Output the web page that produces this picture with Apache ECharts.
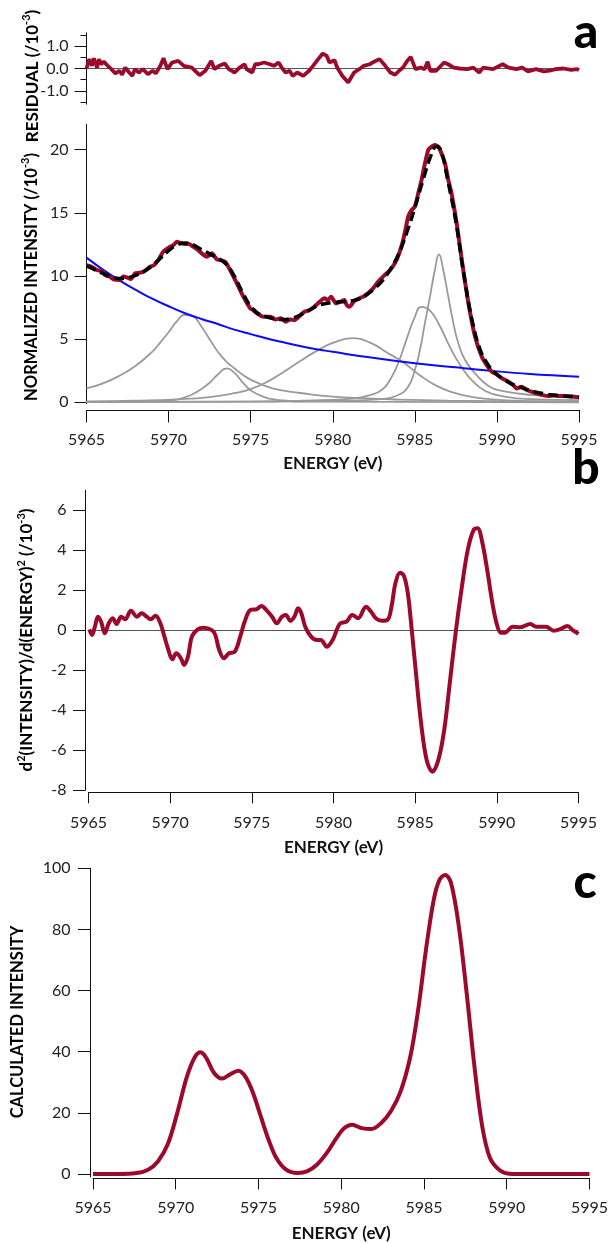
<!DOCTYPE html>
<html lang="en">
<head>
    <meta charset="UTF-8">
    <title>XANES pre-edge fit</title>
    <script src="https://cdn.jsdelivr.net/npm/echarts@6/dist/echarts.min.js"></script>
    <style>
        html, body { margin: 0; padding: 0; background: #fff; }
        #chart { width: 611px; height: 1243px; }
    </style>
</head>
<body>
<div id="chart"></div>
<script type="text/javascript">
	// ---- data ----
	var energyTicks = [5965, 5970, 5975, 5980, 5985, 5990, 5995];

	// residual (/10^-3)
	var residE = [5965.00, 5965.17, 5965.33, 5965.45, 5965.64, 5965.76, 5965.88, 5966.05, 5966.29, 5966.52, 5966.76, 5967.00, 5967.17, 5967.36, 5967.60, 5967.79, 5967.95, 5968.19, 5968.43, 5968.74, 5969.03, 5969.22, 5969.50, 5969.69, 5969.93, 5970.22, 5970.58, 5970.93, 5971.41, 5971.89, 5972.24, 5972.60, 5972.79, 5973.08, 5973.43, 5973.67, 5974.03, 5974.32, 5974.63, 5974.75, 5975.10, 5975.27, 5975.46, 5975.82, 5976.17, 5976.41, 5976.70, 5976.89, 5977.13, 5977.37, 5977.56, 5977.84, 5978.20, 5978.56, 5978.80, 5979.03, 5979.39, 5979.63, 5979.80, 5980.11, 5980.27, 5980.58, 5980.94, 5981.30, 5981.61, 5981.89, 5982.25, 5982.61, 5982.85, 5983.20, 5983.51, 5983.80, 5984.04, 5984.28, 5984.51, 5984.75, 5985.04, 5985.35, 5985.59, 5985.78, 5985.94, 5986.30, 5986.78, 5987.02, 5987.37, 5987.73, 5988.21, 5988.56, 5988.92, 5989.16, 5989.76, 5990.35, 5990.71, 5991.19, 5991.54, 5991.90, 5992.38, 5992.85, 5993.21, 5993.57, 5994.04, 5994.52, 5994.88, 5995.00];
	var residV = [0.00, 0.42, 0.12, 0.46, 0.04, 0.42, 0.19, 0.31, 0.12, -0.03, -0.22, -0.10, -0.28, 0.04, -0.18, -0.33, -0.03, -0.18, -0.03, -0.25, -0.10, -0.22, 0.12, 0.46, -0.03, 0.27, 0.34, 0.12, 0.04, -0.30, -0.10, 0.34, -0.03, 0.12, 0.22, -0.03, -0.18, 0.04, 0.19, -0.03, -0.18, 0.19, 0.19, 0.27, 0.19, 0.12, 0.27, 0.04, -0.18, -0.10, -0.33, -0.18, -0.33, -0.10, 0.12, 0.34, 0.67, 0.57, 0.27, 0.37, 0.04, -0.33, -0.63, -0.18, -0.03, 0.12, 0.19, 0.34, 0.42, 0.12, -0.18, -0.28, -0.10, 0.04, 0.31, 0.52, -0.03, 0.04, -0.03, 0.30, -0.10, -0.10, 0.27, 0.19, 0.04, 0.00, -0.03, 0.04, -0.18, 0.04, -0.03, 0.19, 0.04, -0.03, 0.04, -0.13, -0.03, -0.13, -0.10, -0.03, 0.00, -0.06, -0.03, -0.07];

	// measured spectrum (/10^-3)
	var dataE = [5965.0, 5965.3, 5965.62, 5965.9, 5966.13, 5966.4, 5966.64, 5967.04, 5967.25, 5967.45, 5967.7, 5967.96, 5968.2, 5968.47, 5968.87, 5969.1, 5969.38, 5969.5, 5969.68, 5970.09, 5970.3, 5970.5, 5970.7, 5971.0, 5971.2, 5971.51, 5971.75, 5972.02, 5972.33, 5972.5, 5972.63, 5972.94, 5973.2, 5973.45, 5973.75, 5974.16, 5974.56, 5974.97, 5975.15, 5975.38, 5975.78, 5976.22, 5976.5, 5976.84, 5977.14, 5977.4, 5977.65, 5978.0, 5978.27, 5978.6, 5978.88, 5979.2, 5979.49, 5979.7, 5979.9, 5980.2, 5980.45, 5980.71, 5980.85, 5981.02, 5981.3, 5981.63, 5981.9, 5982.14, 5982.45, 5982.76, 5983.16, 5983.45, 5983.78, 5984.05, 5984.29, 5984.45, 5984.59, 5984.8, 5985.0, 5985.2, 5985.41, 5985.6, 5985.82, 5986.05, 5986.22, 5986.45, 5986.65, 5986.84, 5987.04, 5987.24, 5987.55, 5987.86, 5988.27, 5988.67, 5989.08, 5989.4, 5989.69, 5990.0, 5990.31, 5990.7, 5991.0, 5991.2, 5991.5, 5991.8, 5992.1, 5992.6, 5993.1, 5993.5, 5993.8, 5994.3, 5994.7, 5995.0];
	var dataV = [10.86, 10.75, 10.47, 10.4, 10.07, 9.95, 9.73, 9.68, 9.95, 9.89, 9.75, 10.2, 10.25, 10.33, 10.73, 10.85, 11.26, 11.55, 11.92, 12.31, 12.45, 12.71, 12.62, 12.52, 12.55, 12.31, 12.1, 11.79, 11.52, 11.65, 11.79, 11.31, 11.25, 11.12, 10.47, 9.41, 8.35, 7.44, 7.3, 7.04, 6.77, 6.77, 6.55, 6.65, 6.38, 6.55, 6.51, 6.85, 7.17, 7.3, 7.56, 7.95, 8.23, 8.1, 8.35, 7.83, 7.95, 8.09, 7.7, 7.56, 8.0, 8.23, 8.4, 8.62, 9.0, 9.54, 10.07, 10.4, 11.0, 11.8, 12.84, 13.8, 14.68, 15.2, 15.47, 16.5, 17.6, 18.8, 19.96, 20.25, 20.36, 20.2, 19.6, 18.9, 17.6, 16.5, 14.16, 11.26, 7.81, 5.19, 3.6, 2.9, 2.42, 2.2, 1.9, 1.63, 1.35, 1.1, 1.24, 1.0, 0.84, 0.63, 0.5, 0.55, 0.5, 0.5, 0.45, 0.4];

	// total fit (dashed)
	var fitE = [5965, 5965.5, 5966, 5966.5, 5967, 5967.5, 5968, 5968.5, 5969, 5969.5, 5970, 5970.5, 5971, 5971.5, 5972, 5972.5, 5973, 5973.5, 5974, 5974.5, 5975, 5975.5, 5976, 5976.5, 5977, 5977.5, 5978, 5978.5, 5979, 5979.5, 5980, 5980.5, 5981, 5981.5, 5982, 5982.5, 5983, 5983.5, 5984, 5984.5, 5985, 5985.5, 5986, 5986.3, 5986.6, 5987, 5987.5, 5988, 5988.5, 5989, 5989.5, 5990, 5990.5, 5991, 5992, 5993, 5994, 5995];
	var fitV = [10.8, 10.5, 10.2, 9.95, 9.8, 9.85, 10.05, 10.35, 10.8, 11.4, 12.0, 12.45, 12.6, 12.45, 12.1, 11.75, 11.4, 10.95, 10.0, 8.7, 7.6, 7.0, 6.75, 6.6, 6.55, 6.65, 6.9, 7.25, 7.6, 7.8, 7.9, 7.95, 8.0, 8.15, 8.45, 8.95, 9.6, 10.5, 11.7, 13.4, 15.4, 17.6, 19.6, 20.25, 19.9, 17.6, 14.3, 10.0, 6.4, 4.1, 2.9, 2.2, 1.75, 1.4, 0.95, 0.65, 0.5, 0.4];

	// background (blue)
	var bgE = [5965, 5966, 5967, 5968, 5969, 5970, 5971, 5972, 5973, 5974, 5975, 5976, 5977, 5978, 5979, 5980, 5982, 5984, 5986, 5988, 5990, 5992, 5995];
	var bgV = [11.45, 10.5, 9.65, 8.9, 8.2, 7.6, 7.05, 6.6, 6.2, 5.75, 5.4, 5.05, 4.75, 4.45, 4.2, 4.0, 3.6, 3.25, 2.95, 2.7, 2.45, 2.25, 2.03];

	// fitted components (gray)
	var pk1E = [5965, 5966, 5967, 5968, 5969, 5969.5, 5970, 5970.5, 5971, 5971.5, 5972, 5972.5, 5973, 5973.5, 5974, 5974.5, 5975, 5976, 5977, 5978, 5980, 5982, 5984, 5987, 5990, 5995];
	var pk1V = [1.1, 1.5, 2.1, 2.9, 4.0, 4.75, 5.55, 6.4, 6.93, 6.8, 6.0, 5.0, 4.0, 3.25, 2.7, 2.2, 1.8, 1.25, 0.93, 0.74, 0.45, 0.31, 0.22, 0.14, 0.1, 0.06];
	var pk2E = [5965, 5968, 5970, 5970.5, 5971, 5971.5, 5972, 5972.5, 5973, 5973.55, 5974, 5974.5, 5975, 5975.5, 5976, 5976.5, 5977, 5978, 5995];
	var pk2V = [0.01, 0.05, 0.15, 0.22, 0.4, 0.66, 1.05, 1.55, 2.2, 2.69, 2.35, 1.6, 0.95, 0.6, 0.34, 0.22, 0.15, 0.06, 0];
	var pk3E = [5965, 5968, 5970.5, 5972.5, 5974, 5975, 5976, 5977, 5978, 5979, 5980, 5981.2, 5982.3, 5983.3, 5984.3, 5985.3, 5986.3, 5987.3, 5988.5, 5990.3, 5992, 5995];
	var pk3V = [0.08, 0.14, 0.24, 0.42, 0.72, 1.05, 1.62, 2.4, 3.25, 4.05, 4.7, 5.08, 4.7, 3.95, 3.15, 2.15, 1.32, 0.78, 0.42, 0.18, 0.1, 0.05];
	var pk4E = [5965, 5975, 5979.3, 5981.3, 5982.3, 5983, 5983.5, 5984, 5984.5, 5985, 5985.4, 5985.9, 5986.5, 5987, 5987.5, 5988, 5988.5, 5989.3, 5990.3, 5992, 5995];
	var pk4V = [0.02, 0.06, 0.18, 0.31, 0.58, 1.0, 1.8, 3.15, 5.0, 6.77, 7.56, 7.3, 6.1, 4.75, 3.5, 2.5, 1.72, 0.9, 0.5, 0.25, 0.18];
	var pk5E = [5965, 5975, 5980, 5982.76, 5983.98, 5984.59, 5985.0, 5985.31, 5985.61, 5985.92, 5986.22, 5986.47, 5986.73, 5987.04, 5987.35, 5987.65, 5988.06, 5988.67, 5989.49, 5990.31, 5992, 5995];
	var pk5V = [0.03, 0.06, 0.12, 0.24, 0.58, 1.24, 2.56, 4.14, 6.25, 8.35, 10.47, 11.7, 10.47, 8.35, 6.25, 4.67, 3.35, 2.29, 1.3, 0.9, 0.6, 0.45];

	// second derivative (/10^-3)
	var d2E = [5965.05, 5965.22, 5965.39, 5965.58, 5965.77, 5966.0, 5966.24, 5966.48, 5966.72, 5967.0, 5967.24, 5967.6, 5967.96, 5968.25, 5968.56, 5968.8, 5969.11, 5969.4, 5969.65, 5969.89, 5970.13, 5970.37, 5970.66, 5970.85, 5971.09, 5971.33, 5971.69, 5972.05, 5972.53, 5972.76, 5973.0, 5973.29, 5973.6, 5973.96, 5974.32, 5974.56, 5974.92, 5975.28, 5975.59, 5975.88, 5976.24, 5976.53, 5976.84, 5977.08, 5977.36, 5977.6, 5977.84, 5978.03, 5978.27, 5978.63, 5978.99, 5979.23, 5979.59, 5979.95, 5980.38, 5980.79, 5981.15, 5981.51, 5981.99, 5982.3, 5982.59, 5982.95, 5983.31, 5983.55, 5983.79, 5984.07, 5984.31, 5984.55, 5984.79, 5985.03, 5985.34, 5985.7, 5986.06, 5986.42, 5986.78, 5987.14, 5987.5, 5987.86, 5988.22, 5988.58, 5988.82, 5989.1, 5989.41, 5989.73, 5990.01, 5990.25, 5990.49, 5990.97, 5991.45, 5992.05, 5992.41, 5993.01, 5993.49, 5993.85, 5994.33, 5994.62, 5995.0];
	var d2V = [0.05, -0.23, 0.18, 0.68, 0.43, -0.15, 0.35, 0.6, 0.32, 0.68, 0.55, 0.98, 0.68, 0.85, 0.68, 0.55, 0.73, 0.35, -0.32, -0.98, -1.45, -1.15, -1.4, -1.73, -1.32, -0.32, 0.05, 0.13, 0.02, -0.23, -0.98, -1.4, -1.15, -1.07, -0.23, 0.43, 1.02, 1.05, 1.22, 1.02, 0.68, 0.35, 0.68, 0.77, 0.47, 0.68, 1.1, 0.85, 0.18, -0.32, -0.48, -0.48, -0.82, -0.48, 0.32, 0.43, 0.77, 0.6, 1.18, 0.93, 0.6, 0.48, 0.52, 1.18, 2.35, 2.88, 2.72, 1.85, 0.02, -1.98, -4.48, -6.48, -7.07, -6.48, -4.98, -2.48, 0.02, 2.18, 4.02, 5.02, 5.1, 4.43, 3.02, 1.35, 0.27, -0.12, -0.12, 0.18, 0.15, 0.32, 0.18, 0.18, -0.02, 0.05, 0.22, 0.02, -0.18];

	// calculated spectrum
	var calcE = [5965, 5966.46, 5967.63, 5968.33, 5968.92, 5969.51, 5970.09, 5970.68, 5971.15, 5971.5, 5971.85, 5972.32, 5972.79, 5973.26, 5973.78, 5974.2, 5974.67, 5975.14, 5975.61, 5976.08, 5976.67, 5977.37, 5977.96, 5978.54, 5979.13, 5979.72, 5980.19, 5980.66, 5981.24, 5981.83, 5982.42, 5983.0, 5983.59, 5984.18, 5984.65, 5985.12, 5985.59, 5985.94, 5986.29, 5986.64, 5987.11, 5987.58, 5988.05, 5988.52, 5988.99, 5989.58, 5990.16, 5991.1, 5995];
	var calcV = [0, 0, 0.3, 1.4, 4.1, 9.6, 19.9, 31.9, 38.2, 39.8, 37.9, 33.0, 31.2, 32.5, 33.8, 31.9, 26.5, 18.8, 11.2, 5.2, 1.4, 0.3, 0.9, 3.1, 6.9, 11.8, 15.0, 16.1, 15.0, 14.7, 16.7, 20.5, 27.0, 38.5, 53.7, 73.3, 89.7, 96.2, 97.8, 95.1, 80.9, 59.2, 35.2, 15.6, 5.2, 1.2, 0.1, 0, 0];

	// ---- helpers ----
	function pairs(xs, ys) {
		var out = [];
		for (var i = 0; i < xs.length; i++) {
			out.push([xs[i], ys[i]]);
		}
		return out;
	}

	var RED = '#9b0a2c';
	var GRAY = '#9a9a9a';
	var FONT = 'Lato';

	function plain(v) {
		return String(v);
	}

	function xAxisFor(grid, offset, tickLen, nameGap) {
		return {
			gridIndex: grid,
			type: 'value',
			min: 5965,
			max: 5995,
			offset: offset,
			axisLine: {show: true, onZero: false, lineStyle: {color: '#111', width: 1}},
			axisTick: {show: true, inside: false, length: tickLen, customValues: energyTicks, lineStyle: {color: '#111'}},
			axisLabel: {customValues: energyTicks, margin: 22, fontFamily: FONT, fontSize: 16, color: '#222', formatter: plain},
			splitLine: {show: false},
			name: 'ENERGY (eV)',
			nameLocation: 'middle',
			nameGap: nameGap,
			nameTextStyle: {fontFamily: FONT, fontWeight: 'bold', fontSize: 17, color: '#111'}
		};
	}

	function yAxisFor(grid, min, max, ticks, offset, margin, fmt) {
		return {
			gridIndex: grid,
			type: 'value',
			position: 'left',
			min: min,
			max: max,
			offset: offset,
			axisLine: {show: true, onZero: false, lineStyle: {color: '#111', width: 1}},
			axisTick: {show: true, inside: false, length: 12, customValues: ticks, lineStyle: {color: '#111'}},
			axisLabel: {customValues: ticks, margin: margin, fontFamily: FONT, fontSize: 16, color: '#222', formatter: fmt || plain},
			splitLine: {show: false}
		};
	}

	function curve(xi, yi, xs, ys, color, width, z, smooth, dashed) {
		return {
			type: 'line',
			xAxisIndex: xi,
			yAxisIndex: yi,
			data: pairs(xs, ys),
			showSymbol: false,
			symbol: 'none',
			smooth: smooth,
			z: z,
			lineStyle: {color: color, width: width, type: dashed ? [10, 5] : 'solid', cap: 'butt'},
			silent: true
		};
	}

	function zeroLine(xi, yi) {
		return {
			type: 'line',
			xAxisIndex: xi,
			yAxisIndex: yi,
			data: [],
			markLine: {
				silent: true,
				symbol: 'none',
				label: {show: false},
				lineStyle: {color: '#555', width: 1.2, type: 'solid'},
				data: [{yAxis: 0}]
			}
		};
	}

	function vtitle(x, y, text, size) {
		return {
			type: 'text',
			x: x,
			y: y,
			rotation: Math.PI / 2,
			style: {
				text: text,
				align: 'center',
				verticalAlign: 'middle',
				rich: {
					t: {fontFamily: FONT, fontWeight: 'bold', fontSize: size, lineHeight: 20, color: '#111', verticalAlign: 'bottom'},
					s: {fontFamily: FONT, fontWeight: 'bold', fontSize: 11, lineHeight: 11, color: '#111', verticalAlign: 'top'}
				}
			}
		};
	}

	function letter(x, y, ch) {
		return {
			type: 'text',
			x: x,
			y: y,
			style: {text: ch, align: 'center', verticalAlign: 'middle', fontFamily: FONT, fontWeight: 900, fontSize: 48, fill: '#000'}
		};
	}

	var chart = echarts.init(document.getElementById('chart'), null, {renderer: 'canvas'});

	var option = {
		animation: false,
		backgroundColor: '#fff',
		grid: [
			{left: 86.5, top: 32.8, width: 492.5, height: 71.4},
			{left: 86.5, top: 124.3, width: 492.5, height: 279.3},
			{left: 88.5, top: 490.3, width: 490, height: 300},
			{left: 93, top: 868.3, width: 500, height: 309.1}
		],
		xAxis: [
			{gridIndex: 0, type: 'value', min: 5965, max: 5995, show: false},
			xAxisFor(1, 6.4, 12.5, 45),
			xAxisFor(2, 2.4, 10.7, 46),
			xAxisFor(3, 1, 11.5, 47)
		],
		yAxis: [
			yAxisFor(0, -1.6, 1.6, [-1, 0, 1], 0, 18, function (v) { return v.toFixed(1); }),
			// minor ticks on the residual axis
			{
				gridIndex: 0, type: 'value', position: 'left', min: -1.6, max: 1.6,
				axisLine: {show: false},
				axisTick: {show: true, length: 6, customValues: [-1.5, -0.5, 0.5, 1.5], lineStyle: {color: '#111'}},
				axisLabel: {show: false},
				splitLine: {show: false}
			},
			yAxisFor(1, -0.1, 22, [0, 5, 10, 15, 20], 0, 18),
			yAxisFor(2, -8, 7, [-8, -6, -4, -2, 0, 2, 4, 6], 3.5, 18.5),
			yAxisFor(3, -1, 100, [0, 20, 40, 60, 80, 100], 3, 19.5)
		],
		series: [
			zeroLine(0, 0),
			curve(0, 0, residE, residV, RED, 3.8, 6, false),

			curve(1, 2, pk1E, pk1V, GRAY, 1.8, 2, 0.5),
			curve(1, 2, pk2E, pk2V, GRAY, 1.8, 2, 0.5),
			curve(1, 2, pk3E, pk3V, GRAY, 1.8, 2, 0.5),
			curve(1, 2, pk4E, pk4V, GRAY, 1.8, 2, 0.5),
			curve(1, 2, pk5E, pk5V, GRAY, 1.8, 2, 0.5),
			curve(1, 2, bgE, bgV, '#0a0aff', 2, 3, 0.4),
			curve(1, 2, dataE, dataV, RED, 4, 4, 0.2),
			curve(1, 2, fitE, fitV, '#000', 3.5, 5, 0.4, true),

			zeroLine(2, 3),
			curve(2, 3, d2E, d2V, RED, 4, 6, 0.35),

			curve(3, 4, calcE, calcV, RED, 4, 6, 0.35)
		],
		graphic: [
			vtitle(31, 76, '{t|RESIDUAL (/10}{s|-3}{t|)}', 17),
			vtitle(30, 277, '{t|NORMALIZED INTENSITY (/10}{s|-3}{t|)}', 16.5),
			vtitle(25.5, 640, '{t|d}{s|2}{t|(INTENSITY)/d(ENERGY)}{s|2}{t| (/10}{s|-3}{t|)}', 17),
			vtitle(16.6, 1022, '{t|CALCULATED INTENSITY}', 16.5),
			letter(586, 33, 'a'),
			letter(586, 469, 'b'),
			letter(585, 883, 'c')
		]
	};

	chart.setOption(option);
</script>
</body>
</html>
